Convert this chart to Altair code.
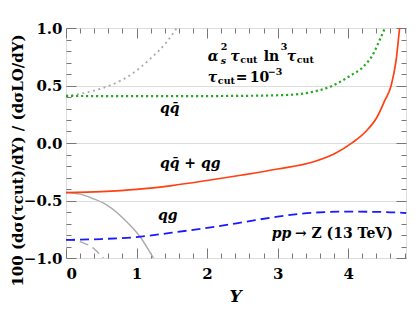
import altair as alt
import pandas as pd

# ---------------- data ----------------
x_major = [0, 1, 2, 3, 4]
x_minor = [0.2, 0.4, 0.6, 0.8, 1.2, 1.4, 1.6, 1.8, 2.2, 2.4, 2.6, 2.8,
           3.2, 3.4, 3.6, 3.8, 4.2, 4.4, 4.6, 4.8]
y_major = [-1.0, -0.5, 0.0, 0.5, 1.0]
y_minor = [-0.9, -0.8, -0.7, -0.6, -0.4, -0.3, -0.2, -0.1,
           0.1, 0.2, 0.3, 0.4, 0.6, 0.7, 0.8, 0.9]
y_grid = [-0.5, 0.0, 0.5]

# q qbar + q g (red, solid)
sum_x = [0, 0.5, 1.0, 1.5, 2.0, 2.5, 3.0, 3.5, 3.8, 4.06, 4.25, 4.41, 4.52, 4.61, 4.68, 4.73, 4.78]
sum_y = [-0.432, -0.422, -0.403, -0.37, -0.326, -0.278, -0.226, -0.165, -0.096, 0.003,
         0.10, 0.226, 0.37, 0.50, 0.72, 1.0, 1.25]
# q qbar (green, dotted)
qq_x = [0, 0.5, 1.0, 1.5, 2.0, 2.5, 3.0, 3.3, 3.5, 3.75, 4.03, 4.21, 4.36, 4.45, 4.52, 4.58]
qq_y = [0.409, 0.408, 0.407, 0.407, 0.408, 0.41, 0.415, 0.425, 0.445, 0.49, 0.585,
        0.66, 0.78, 0.90, 1.0, 1.1]
# q g (blue, dashed)
qg_x = [0, 0.5, 1.0, 1.5, 2.0, 2.5, 3.0, 3.5, 4.0, 4.5, 4.9]
qg_y = [-0.843, -0.835, -0.818, -0.78, -0.738, -0.69, -0.64, -0.606, -0.597, -0.60, -0.612]
# gray solid
gs_x = [0, 0.2, 0.39, 0.58, 0.86, 1.05, 1.24, 1.3]
gs_y = [-0.43, -0.445, -0.485, -0.54, -0.684, -0.815, -1.0, -1.06]
# gray dashed
gd_x = [0, 0.15, 0.25, 0.39, 0.45, 0.53, 0.6]
gd_y = [-0.843, -0.85, -0.87, -0.915, -0.95, -1.0, -1.04]
# gray dotted
gp_x = [0, 0.34, 0.62, 0.91, 1.19, 1.43, 1.57, 1.65]
gp_y = [0.409, 0.446, 0.50, 0.59, 0.73, 0.88, 1.0, 1.07]

# annotation pieces (text, x, y, font size)
ital_t = ["α", "τ", "τ", "τ", "s", "qq̄", "qq̄ + qg", "qg", "pp"]
ital_x = [2.011, 2.330, 3.130, 2.011, 2.195, 1.331, 1.331, 1.303, 2.917]
ital_y = [0.717, 0.717, 0.717, 0.533, 0.691, 0.261, -0.217, -0.670, -0.826]
ital_s = [14, 14, 14, 14, 9.5, 14, 14, 14, 14]

up_t = ["ln", "=", "10", "2", "cut", "3", "cut", "cut", "−3", "→ Z (13 TeV)"]
up_x = [2.804, 2.408, 2.606, 2.195, 2.472, 3.045, 3.272, 2.153, 2.861, 3.245]
up_y = [0.717, 0.533, 0.533, 0.809, 0.696, 0.809, 0.696, 0.509, 0.591, -0.826]
up_s = [14, 14, 14, 9.5, 9.5, 9.5, 9.5, 9.5, 9.5, 14]

# ---------------- chart ----------------
W, H = 340, 230
FONT = "DejaVu Serif"
TICK = "#777777"

xsc = alt.Scale(domain=[0, 4.82], nice=False, zero=False)
ysc = alt.Scale(domain=[-1, 1], nice=False, zero=False)


def tick_axis(orient, values, size, offset):
    return alt.Axis(orient=orient, values=values, tickSize=size, offset=offset,
                    labels=False, domain=False, grid=False, title=None,
                    tickColor=TICK, tickWidth=1)


ax_x_lab = alt.Axis(orient="bottom", values=x_major, format="d", ticks=False, tickSize=0,
                    domain=False, grid=False, labelFont=FONT, labelFontSize=15,
                    labelFontWeight="bold", labelColor="black", labelPadding=8,
                    title="Y", titleFont=FONT, titleFontSize=17, titleFontStyle="italic",
                    titleFontWeight="bold", titleColor="black",
                    titleX=169, titleY=43, titleBaseline="alphabetic")
ax_y_lab = alt.Axis(orient="left", values=y_major, format=".1f", ticks=False, tickSize=0,
                    domain=False, grid=False, labelFont=FONT, labelFontSize=15,
                    labelFontWeight="bold", labelColor="black", labelPadding=4,
                    title="100 (dσ(τcut)/dY) / (dσLO/dY)", titleFont=FONT,
                    titleFontSize=15, titleFontWeight="bold", titleColor="black",
                    titleX=-44, titleY=132, titleAngle=270, titleBaseline="alphabetic",
                    titleAlign="center")
ax_grid = alt.Axis(orient="left", values=y_grid, grid=True, gridColor="#dddddd",
                   gridWidth=1, ticks=False, labels=False, domain=False, title=None)


def line_layer(xs, ys, color, width, ax_x, ax_y, dash=None):
    df = pd.DataFrame({"Y": xs, "v": ys})
    kw = dict(color=color, strokeWidth=width, clip=True, interpolate="monotone")
    if dash:
        kw["strokeDash"] = dash
    return alt.Chart(df).mark_line(**kw).encode(
        x=alt.X("Y:Q", scale=xsc, axis=ax_x),
        y=alt.Y("v:Q", scale=ysc, axis=ax_y),
    )


layers = [
    line_layer(gp_x, gp_y, "#aaaaaa", 1.8, None, ax_grid, [2, 3.5]),
    line_layer(gd_x, gd_y, "#aaaaaa", 1.4, tick_axis("top", x_major, 10, -H),
               tick_axis("right", y_major, 10, -W), [9, 5]),
    line_layer(gs_x, gs_y, "#aaaaaa", 1.4, tick_axis("top", x_minor, 5, -H),
               tick_axis("right", y_minor, 5, -W)),
    line_layer(qg_x, qg_y, "#1a1aff", 1.8, tick_axis("bottom", x_major, 10, -H),
               tick_axis("left", y_major, 10, -W), [9, 5]),
    line_layer(qq_x, qq_y, "#22aa22", 2.2, tick_axis("bottom", x_minor, 5, -H),
               tick_axis("left", y_minor, 5, -W), [2.2, 2.8]),
    line_layer(sum_x, sum_y, "#ff4010", 1.7, ax_x_lab, ax_y_lab),
]

ital_df = pd.DataFrame({"t": ital_t, "x": ital_x, "y": ital_y, "s": ital_s})
up_df = pd.DataFrame({"t": up_t, "x": up_x, "y": up_y, "s": up_s})

for df, style in ((ital_df, "italic"), (up_df, "normal")):
    layers.append(
        alt.Chart(df).mark_text(font=FONT, fontWeight="bold", fontStyle=style,
                                align="left", baseline="alphabetic", color="black")
        .encode(x=alt.X("x:Q", scale=xsc, axis=None),
                y=alt.Y("y:Q", scale=ysc, axis=None),
                text="t:N",
                size=alt.Size("s:Q", scale=None))
    )

chart = (
    alt.layer(*layers)
    .resolve_axis(x="independent", y="independent")
    .properties(width=W, height=H,
                autosize=alt.AutoSizeParams(type="none"),
                padding={"left": 58, "top": 20, "right": 1, "bottom": 49})
    .configure_view(stroke="#555555", strokeWidth=1.2)
    .configure(background="white")
)

chart.save("out.html", embed_options={"renderer": "svg", "actions": False})
